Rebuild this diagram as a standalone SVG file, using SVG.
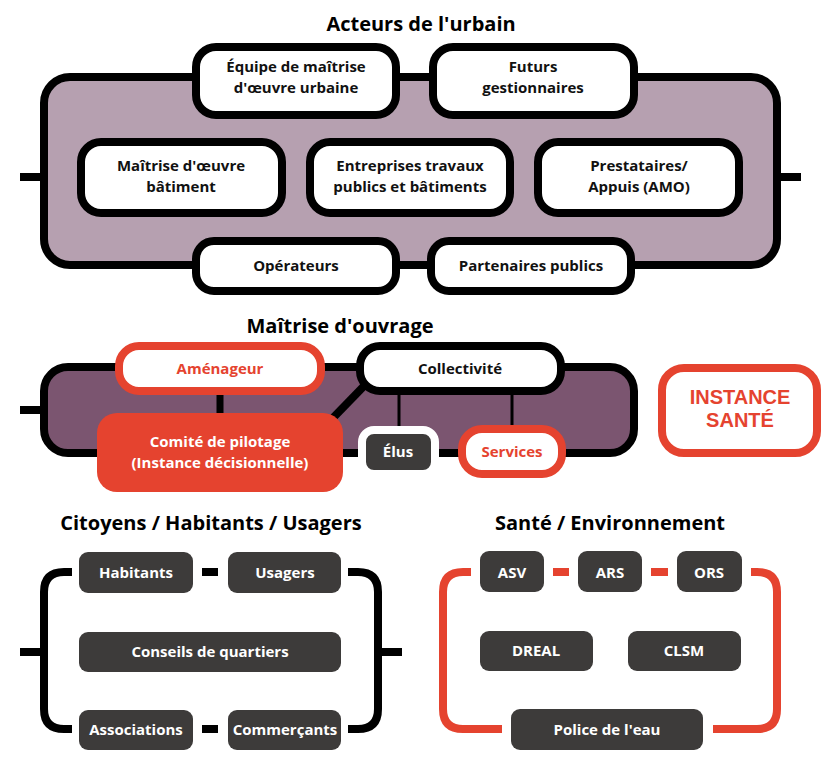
<svg xmlns="http://www.w3.org/2000/svg" width="836" height="765" viewBox="0 0 836 765">
<style>
text{font-family:"Open Sans","Liberation Sans",sans-serif;font-weight:700;text-anchor:middle}
.title{font-size:20px;fill:#000}
.lbl{font-size:15px;fill:#111}
.wl{font-size:15px;fill:#fff}
.rl{font-size:15px;fill:#e5432f}
.big{font-family:"Liberation Sans",Arial,sans-serif;font-size:20px;fill:#e5432f}
.wbox{fill:#fff;stroke:#000;stroke-width:8}
.rbox{fill:#fff;stroke:#e5432f;stroke-width:8}
.dbox{fill:#3d3b3a}
.blk{stroke:#000;stroke-width:8;fill:none}
.red{stroke:#e5432f;stroke-width:8;fill:none}
</style>
<rect width="836" height="765" fill="#fff"/>

<text class="title" x="421" y="31">Acteurs de l'urbain</text>
<text class="title" x="340" y="333">Maîtrise d'ouvrage</text>
<text class="title" x="211" y="530">Citoyens / Habitants / Usagers</text>
<text class="title" x="610" y="530">Santé / Environnement</text>

<g id="acteurs-frame"><rect x="44" y="77" width="733" height="188" rx="26" fill="#b6a0b0" stroke="#000" stroke-width="8"/></g>
<g id="mo-frame"><rect x="44" y="367" width="590" height="86" rx="24" fill="#7b5570" stroke="#000" stroke-width="8"/></g>

<g id="connectors">
  <line class="blk" x1="20" y1="177" x2="42" y2="177"/>
  <line class="blk" x1="779" y1="177" x2="801" y2="177"/>
  <line class="blk" x1="20" y1="410" x2="42" y2="410"/>
  <line x1="220" y1="391" x2="220" y2="416" stroke="#000" stroke-width="7"/>
  <line x1="364" y1="386" x2="330" y2="421" stroke="#000" stroke-width="8"/>
  <line x1="399" y1="391" x2="399" y2="432" stroke="#000" stroke-width="3"/>
  <line x1="512" y1="391" x2="512" y2="430" stroke="#000" stroke-width="3"/>
  <line class="blk" x1="202" y1="572" x2="218" y2="572"/>
  <line class="blk" x1="202" y1="729" x2="218" y2="729"/>
  <path class="blk" d="M72 572 H64 Q44 572 44 592 V709 Q44 729 64 729 H72"/>
  <line class="blk" x1="20" y1="652" x2="44" y2="652"/>
  <path class="blk" d="M348 572 H358 Q378 572 378 592 V709 Q378 729 358 729 H348"/>
  <line class="blk" x1="378" y1="652" x2="402" y2="652"/>
  <line class="red" x1="553" y1="572" x2="569" y2="572"/>
  <line class="red" x1="651" y1="572" x2="668" y2="572"/>
  <path class="red" d="M471 572 H463 Q443 572 443 592 V709 Q443 729 463 729 H502"/>
  <path class="red" d="M751 572 H757 Q777 572 777 592 V709 Q777 729 757 729 H713"/>
</g>

<g id="equipe"><rect class="wbox" x="196" y="47" width="200" height="68" rx="20"/><text class="lbl" x="296" y="72">Équipe de maîtrise</text><text class="lbl" x="296" y="93">d'œuvre urbaine</text></g>
<g id="futurs"><rect class="wbox" x="433" y="47" width="201" height="68" rx="20"/><text class="lbl" x="533" y="72">Futurs</text><text class="lbl" x="533" y="93">gestionnaires</text></g>
<g id="moe-bat"><rect class="wbox" x="81" y="142" width="201" height="71" rx="20"/><text class="lbl" x="181" y="171">Maîtrise d'œuvre</text><text class="lbl" x="181" y="192">bâtiment</text></g>
<g id="entreprises"><rect class="wbox" x="310" y="142" width="200" height="71" rx="20"/><text class="lbl" x="410" y="171">Entreprises travaux</text><text class="lbl" x="410" y="192">publics et bâtiments</text></g>
<g id="prestataires"><rect class="wbox" x="538" y="142" width="201" height="71" rx="20"/><text class="lbl" x="639" y="171">Prestataires/</text><text class="lbl" x="639" y="192">Appuis (AMO)</text></g>
<g id="operateurs"><rect class="wbox" x="196" y="241" width="200" height="50" rx="18"/><text class="lbl" x="296" y="271">Opérateurs</text></g>
<g id="partenaires"><rect class="wbox" x="431" y="241" width="200" height="50" rx="18"/><text class="lbl" x="531" y="271">Partenaires publics</text></g>

<g id="amenageur"><rect class="rbox" x="119" y="346" width="202" height="45" rx="20"/><text class="rl" x="220" y="374">Aménageur</text></g>
<g id="collectivite"><rect class="wbox" x="360" y="346" width="201" height="45" rx="20"/><text class="lbl" x="460" y="374">Collectivité</text></g>
<g id="comite"><rect x="97" y="413" width="246" height="79" rx="20" fill="#e5432f"/><text class="wl" x="220" y="447">Comité de pilotage</text><text class="wl" x="220" y="468">(Instance décisionnelle)</text></g>
<g id="elus"><rect x="362" y="430" width="73" height="44" rx="12" fill="#3d3b3a" stroke="#fff" stroke-width="8"/><text class="wl" x="398" y="457">Élus</text></g>
<g id="services"><rect class="rbox" x="462" y="429" width="100" height="45" rx="20"/><text class="rl" x="512" y="457">Services</text></g>
<g id="instance-sante"><rect class="rbox" x="662" y="368" width="155" height="85" rx="22"/><text class="big" x="740" y="404">INSTANCE</text><text class="big" x="740" y="427">SANTÉ</text></g>

<g id="habitants"><rect class="dbox" x="79" y="552" width="114" height="41" rx="9"/><text class="wl" x="136" y="578">Habitants</text></g>
<g id="usagers"><rect class="dbox" x="228" y="552" width="113" height="41" rx="9"/><text class="wl" x="285" y="578">Usagers</text></g>
<g id="conseils"><rect class="dbox" x="79" y="632" width="262" height="40" rx="9"/><text class="wl" x="210" y="657">Conseils de quartiers</text></g>
<g id="associations"><rect class="dbox" x="79" y="710" width="114" height="40" rx="9"/><text class="wl" x="136" y="735">Associations</text></g>
<g id="commercants"><rect class="dbox" x="228" y="710" width="113" height="40" rx="9"/><text class="wl" x="285" y="735">Commerçants</text></g>

<g id="asv"><rect class="dbox" x="480" y="551" width="64" height="41" rx="9"/><text class="wl" x="512" y="578">ASV</text></g>
<g id="ars"><rect class="dbox" x="578" y="551" width="64" height="41" rx="9"/><text class="wl" x="610" y="578">ARS</text></g>
<g id="ors"><rect class="dbox" x="677" y="551" width="65" height="41" rx="9"/><text class="wl" x="709" y="578">ORS</text></g>
<g id="dreal"><rect class="dbox" x="480" y="631" width="113" height="40" rx="9"/><text class="wl" x="536" y="656">DREAL</text></g>
<g id="clsm"><rect class="dbox" x="628" y="631" width="113" height="40" rx="9"/><text class="wl" x="684" y="656">CLSM</text></g>
<g id="police"><rect class="dbox" x="511" y="709" width="192" height="41" rx="9"/><text class="wl" x="607" y="735">Police de l'eau</text></g>
</svg>
